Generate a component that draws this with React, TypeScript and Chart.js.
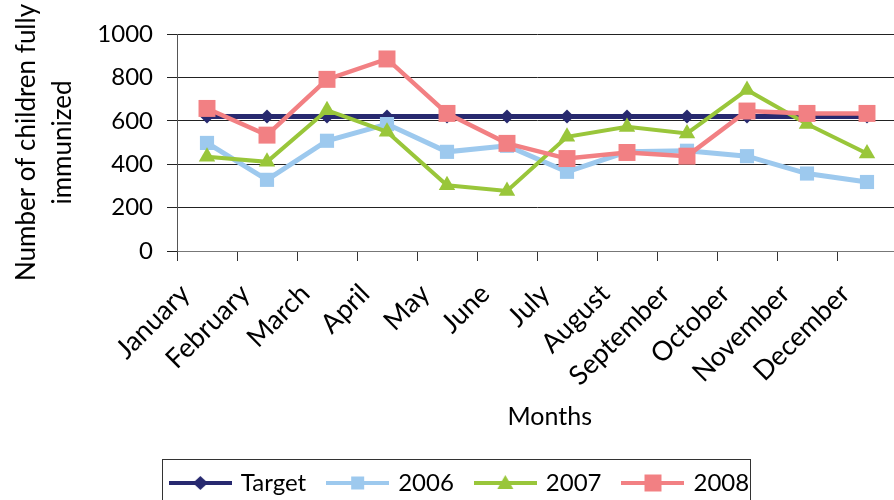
import React, { useEffect, useRef } from 'react';
import { Chart, registerables } from 'chart.js';

Chart.register(...registerables);

const months = ['January', 'February', 'March', 'April', 'May', 'June', 'July', 'August', 'September', 'October', 'November', 'December'];
const seriesNames = ['Target', '2006', '2007', '2008'];
const target = [620, 620, 620, 620, 620, 620, 620, 620, 620, 620, 620, 620];
const y2006 = [498, 328, 508, 585, 457, 485, 365, 457, 462, 437, 357, 318];
const y2007 = [434, 411, 649, 549, 303, 277, 526, 572, 542, 742, 585, 449];
const y2008 = [657, 534, 791, 885, 634, 496, 426, 454, 437, 645, 634, 634];
const yTitle = ['Number of children fully', 'immunized'];
const xTitle = 'Months';

const NAVY = '#27296F';
const BLUE = '#9DC9EE';
const GREEN = '#99C63A';
const RED = '#F28083';
const FONT = 'Lato';

function legendImage(color: string, shape: string, size: number, lw: number) {
  const c = document.createElement('canvas');
  c.width = 63;
  c.height = 24;
  const ctx = c.getContext('2d')!;
  ctx.strokeStyle = color;
  ctx.lineWidth = lw;
  ctx.beginPath();
  ctx.moveTo(0, 12);
  ctx.lineTo(63, 12);
  ctx.stroke();
  ctx.fillStyle = color;
  const cx = 31.5;
  const cy = 12;
  ctx.beginPath();
  if (shape === 'diamond') {
    ctx.moveTo(cx, cy - size);
    ctx.lineTo(cx + size + 0.5, cy);
    ctx.lineTo(cx, cy + size);
    ctx.lineTo(cx - size - 0.5, cy);
  } else if (shape === 'square') {
    ctx.rect(cx - size / 2, cy - size / 2, size, size);
  } else {
    ctx.moveTo(cx, cy - size);
    ctx.lineTo(cx + size, cy + 6);
    ctx.lineTo(cx - size, cy + 6);
  }
  ctx.closePath();
  ctx.fill();
  return c;
}

const legendBoxPlugin = {
  id: 'legendBox',
  afterDraw(chart: any) {
    const lg = chart.legend;
    if (!lg || !lg.legendHitBoxes || !lg.legendHitBoxes.length) return;
    const hb = lg.legendHitBoxes;
    const first = hb[0];
    const last = hb[hb.length - 1];
    const left = Math.round(first.left - 10) + 0.5;
    const right = Math.round(last.left + last.width + 1) + 0.5;
    const top = Math.round(lg.top + 11) + 0.5;
    const ctx = chart.ctx;
    ctx.save();
    ctx.strokeStyle = '#333';
    ctx.lineWidth = 1;
    ctx.strokeRect(left, top, right - left, 80);
    ctx.restore();
  },
};

export default function App() {
  const ref = useRef<HTMLCanvasElement | null>(null);

  useEffect(() => {
    if (!ref.current) return;
    const imgs = [
      legendImage(NAVY, 'diamond', 7, 4),
      legendImage(BLUE, 'square', 13, 4),
      legendImage(GREEN, 'triangle', 8, 4),
      legendImage(RED, 'square', 17, 4),
    ];
    const colors = [NAVY, BLUE, GREEN, RED];
    const chart = new Chart(ref.current, {
      type: 'line',
      data: {
        labels: months.map((m) => m + '  '),
        datasets: [
          { label: seriesNames[0], data: target, borderColor: NAVY, backgroundColor: NAVY, pointBackgroundColor: NAVY, borderWidth: 5, pointStyle: 'rectRot', pointRadius: 7, pointBorderWidth: 0, order: 4 },
          { label: seriesNames[1], data: y2006, borderColor: BLUE, backgroundColor: BLUE, pointBackgroundColor: BLUE, borderWidth: 5, pointStyle: 'rect', pointRadius: 10, pointBorderWidth: 0, order: 3 },
          { label: seriesNames[2], data: y2007, borderColor: GREEN, backgroundColor: GREEN, pointBackgroundColor: GREEN, borderWidth: 4, pointStyle: 'triangle', pointRadius: 9.5, pointBorderWidth: 0, order: 2 },
          { label: seriesNames[3], data: y2008, borderColor: RED, backgroundColor: RED, pointBackgroundColor: RED, borderWidth: 4.5, pointStyle: 'rect', pointRadius: 12, pointBorderWidth: 0, order: 1 },
        ],
      },
      options: {
        responsive: false,
        animation: false,
        devicePixelRatio: 1,
        layout: { autoPadding: false, padding: { left: 24, top: 34, right: 0, bottom: 0 } },
        plugins: {
          tooltip: { enabled: false },
          legend: {
            position: 'bottom',
            labels: {
              usePointStyle: true,
              pointStyleWidth: 57,
              padding: 23,
              color: '#000',
              font: { family: FONT, size: 24 },
              generateLabels: () =>
                seriesNames.map((n, i) => ({
                  text: n,
                  pointStyle: imgs[i] as any,
                  fillStyle: colors[i],
                  strokeStyle: colors[i],
                  lineWidth: 0,
                  hidden: false,
                  datasetIndex: i,
                })),
            },
          },
        },
        scales: {
          x: {
            type: 'category',
            offset: true,
            grid: { offset: true, drawOnChartArea: false, drawTicks: true, tickLength: 10, color: '#333' },
            border: { color: '#777', width: 1 },
            ticks: { minRotation: 45, maxRotation: 45, padding: 7, labelOffset: -12, color: '#000', font: { family: FONT, size: 27 } },
            title: {
              display: true,
              text: '\u00a0\u00a0\u00a0\u00a0' + xTitle,
              color: '#000',
              font: { family: FONT, size: 25 },
              padding: { top: 0, bottom: 16 },
            },
            afterFit: (s: any) => {
              s.height = 197;
              s.paddingRight = 0;
            },
          },
          y: {
            min: 0,
            max: 1000,
            ticks: { stepSize: 200, padding: 14, color: '#000', font: { family: FONT, size: 24 }, callback: (v: any) => String(v) },
            grid: { color: '#222', tickLength: 10, lineWidth: 1 },
            border: { color: '#555', width: 1 },
            title: {
              display: true,
              text: yTitle,
              color: '#000',
              font: { family: FONT, size: 26, lineHeight: 1.4 },
              padding: { top: -16, bottom: 0 },
            },
            afterFit: (s: any) => {
              s.width = 153;
            },
          },
        },
      },
      plugins: [legendBoxPlugin],
    } as any);
    return () => chart.destroy();
  }, []);

  return (
    <div style={{ position: 'absolute', left: 0, top: 0, width: 894, height: 500, overflow: 'hidden', background: '#fff' }}>
      <canvas ref={ref} width={897} height={505} style={{ display: 'block', width: 897, height: 505 }} />
    </div>
  );
}
